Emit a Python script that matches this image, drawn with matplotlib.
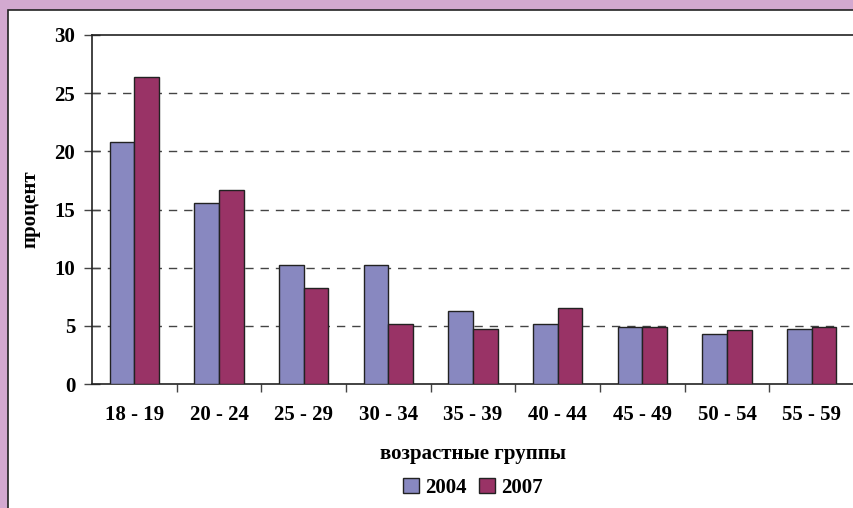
import matplotlib
matplotlib.use("Agg")
import matplotlib.pyplot as plt
from matplotlib.patches import Rectangle
import numpy as np

categories = ["18 - 19", "20 - 24", "25 - 29", "30 - 34", "35 - 39",
              "40 - 44", "45 - 49", "50 - 54", "55 - 59"]
values_2004 = [20.8, 15.6, 10.2, 10.2, 6.3, 5.2, 4.9, 4.3, 4.75]
values_2007 = [26.4, 16.7, 8.25, 5.15, 4.75, 6.5, 4.9, 4.65, 4.9]
series_labels = ["2004", "2007"]
yticks = [0, 5, 10, 15, 20, 25, 30]

plt.rcParams['font.family'] = ['Liberation Serif', 'DejaVu Serif']
plt.rcParams['font.weight'] = 'bold'

W, H = 854, 508
fig = plt.figure(figsize=(W/100, H/100), dpi=100)
fig.patch.set_facecolor('#D3A9D0')
# white panel
fig.patches.append(Rectangle((8/W, -0.1), 1.2, 1 - 10/H + 0.1, transform=fig.transFigure,
                             facecolor='white', edgecolor='#222222', linewidth=1.2, zorder=-10))

ax = fig.add_axes([92/W, 1 - 384/H, (854 - 92)/W, (384 - 35)/H])
ax.set_facecolor('white')

x = np.arange(len(categories))
bw = 0.29
c2004 = '#8888C0'
c2007 = '#993366'
ax.bar(x - bw/2, values_2004, bw, color=c2004, edgecolor='#222222', linewidth=1.0,
       label=series_labels[0], zorder=3)
ax.bar(x + bw/2, values_2007, bw, color=c2007, edgecolor='#222222', linewidth=1.0,
       label=series_labels[1], zorder=3)

ax.set_xlim(-0.5, len(categories) - 0.5)
ax.set_ylim(0, 30)
ax.set_yticks(yticks)
ax.set_yticklabels([str(v) for v in yticks], fontsize=15, fontweight='bold')
for v in yticks[1:-1]:
    ax.axhline(v, color='#444444', linestyle=(0, (6, 5)), linewidth=1.0, zorder=1)

ax.set_xticks(x)
ax.set_xticklabels(categories, fontsize=15, fontweight='bold')
ax.set_xticks(np.arange(len(categories)) + 0.5, minor=True)
ax.tick_params(axis='x', which='major', length=0, pad=15)
ax.tick_params(axis='x', which='minor', length=6, direction='out', color='#444444', width=1)
ax.tick_params(axis='y', direction='inout', length=12, width=1, color='#444444', pad=6)

for s in ['left', 'bottom', 'top']:
    ax.spines[s].set_color('#222222')
    ax.spines[s].set_linewidth(1.2)
ax.spines['right'].set_visible(False)

ax.set_ylabel('процент', fontsize=15, fontweight='bold', labelpad=10)
ax.set_xlabel('возрастные группы', fontsize=15, fontweight='bold', labelpad=14)

leg = ax.legend(loc='upper center', bbox_to_anchor=(0.5, -0.215), ncol=2, frameon=False,
                prop={'size': 15, 'weight': 'bold'}, handlelength=0.75, handleheight=0.75,
                handletextpad=0.3, columnspacing=0.6)

fig.savefig('out.png', dpi=100, facecolor=fig.get_facecolor())
